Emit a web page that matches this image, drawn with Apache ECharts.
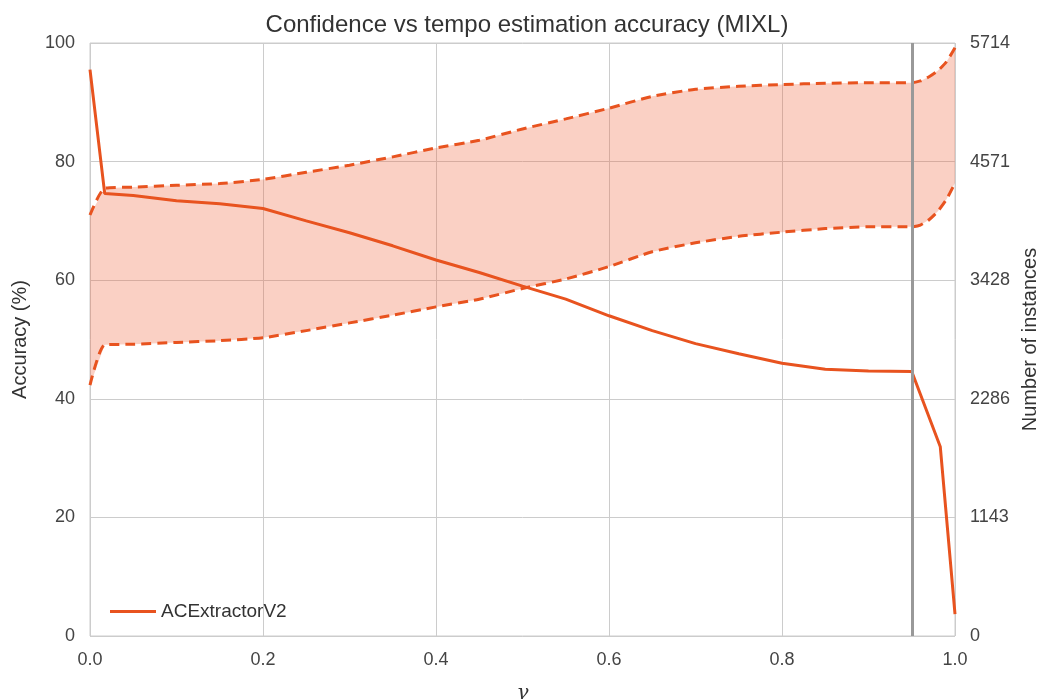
<!DOCTYPE html>
<html><head><meta charset="utf-8">
<script src="https://cdn.jsdelivr.net/npm/echarts@6/dist/echarts.min.js"></script>
<style>html,body{margin:0;padding:0;background:#fff;overflow:hidden}#c{width:1038px;height:699px}</style>
</head><body><div id="c"></div>
<script>
// Solid line (accuracy, %)
const accGamma = [0, 0.017, 0.05, 0.1, 0.15, 0.2, 0.25, 0.3, 0.35, 0.4, 0.45, 0.5, 0.55, 0.6, 0.65, 0.7, 0.75, 0.8, 0.85, 0.9, 0.95, 0.983, 1.0];
const accValues = [95.5, 74.6, 74.3, 73.4, 72.9, 72.1, 70.0, 68.0, 65.8, 63.4, 61.3, 59.0, 56.8, 54.0, 51.5, 49.3, 47.6, 46.0, 45.0, 44.7, 44.6, 31.9, 3.7];
// Band bounds (dashed)
const bandGamma = [0, 0.017, 0.05, 0.1, 0.15, 0.2, 0.25, 0.3, 0.35, 0.4, 0.45, 0.5, 0.55, 0.6, 0.65, 0.7, 0.75, 0.8, 0.85, 0.9, 0.95, 0.96, 0.97, 0.98, 0.99, 1.0];
const bandUpper = [71.0, 75.5, 75.7, 76.0, 76.3, 77.0, 78.2, 79.4, 80.8, 82.3, 83.6, 85.5, 87.2, 89.0, 91.0, 92.2, 92.7, 93.0, 93.2, 93.3, 93.3, 93.6, 94.3, 95.3, 96.8, 99.2];
const bandLower = [42.3, 49.1, 49.2, 49.5, 49.8, 50.3, 51.5, 52.8, 54.1, 55.5, 56.8, 58.6, 60.2, 62.3, 64.8, 66.3, 67.4, 68.1, 68.7, 69.0, 69.0, 69.3, 70.2, 71.6, 73.6, 76.4];
const thresholdGamma = 0.95;
const rightMax = 5714;
const seriesName = 'ACExtractorV2';

const color = '#e8531f';
const fillColor = 'rgba(238,100,60,0.3)';
const txt = '#444';
const font = 'Liberation Sans';

const chart = echarts.init(document.getElementById('c'));
const pairs = (xs, ys) => xs.map((x, i) => [x, ys[i]]);

chart.setOption({
  animation: false,
  textStyle: { fontFamily: font },
  title: {
    text: 'Confidence vs tempo estimation accuracy (MIXL)',
    left: 522, top: 8, textAlign: 'center',
    textStyle: { fontFamily: font, fontSize: 24, fontWeight: 'normal', color: '#333' }
  },
  grid: { left: 90, right: 83, top: 43, bottom: 63, containLabel: false, outerBoundsMode: 'none',
          show: true, borderColor: '#cccccc', borderWidth: 1 },
  legend: {
    left: 105, top: 597, itemWidth: 46, itemHeight: 20, itemGap: 12,
    data: [{ name: seriesName, icon: 'path://M0,8.5 L46,8.5 L46,11.5 L0,11.5 Z' }],
    textStyle: { fontFamily: font, fontSize: 19, color: '#333' }
  },
  xAxis: {
    type: 'value', min: 0, max: 1, interval: 0.2,
    name: 'γ', nameLocation: 'middle', nameGap: 48,
    nameTextStyle: { fontFamily: 'DejaVu Serif', fontStyle: 'italic', fontSize: 20, color: '#333' },
    axisLine: { show: false }, axisTick: { show: false },
    axisLabel: { color: txt, fontSize: 18, margin: 15, formatter: v => v.toFixed(1) },
    splitLine: { show: true, lineStyle: { color: '#cccccc', width: 1 } }
  },
  yAxis: [{
    type: 'value', min: 0, max: 100, interval: 20,
    name: 'Accuracy (%)', nameLocation: 'middle', nameGap: 60, nameRotate: 90,
    nameTextStyle: { fontFamily: font, fontSize: 20, color: '#333' },
    axisLine: { show: false }, axisTick: { show: false },
    axisLabel: { color: txt, fontSize: 18, margin: 15 },
    splitLine: { show: true, lineStyle: { color: '#cccccc', width: 1 } }
  }, {
    type: 'value', min: 0, max: rightMax, interval: rightMax / 5, position: 'right',
    name: 'Number of instances', nameLocation: 'middle', nameGap: 60, nameRotate: 90,
    nameTextStyle: { fontFamily: font, fontSize: 20, color: '#333' },
    axisLine: { show: false }, axisTick: { show: false },
    axisLabel: { color: txt, fontSize: 18, margin: 15, formatter: v => String(Math.round(v)) },
    splitLine: { show: false }
  }],
  series: [
    {
      name: 'band', type: 'custom', silent: true, z: 1,
      data: [0],
      renderItem: function (params, api) {
        const pts = [];
        for (let i = 0; i < bandGamma.length; i++) pts.push(api.coord([bandGamma[i], bandUpper[i]]));
        for (let i = bandGamma.length - 1; i >= 0; i--) pts.push(api.coord([bandGamma[i], bandLower[i]]));
        return { type: 'polygon', shape: { points: pts }, style: { fill: fillColor, stroke: null } };
      }
    },
    {
      name: 'upper', type: 'line', symbol: 'none', silent: true, smooth: 0.2,
      data: pairs(bandGamma, bandUpper),
      lineStyle: { color: color, width: 3, type: [10, 6] }, z: 3
    },
    {
      name: 'lower', type: 'line', symbol: 'none', silent: true, smooth: 0.2,
      data: pairs(bandGamma, bandLower),
      lineStyle: { color: color, width: 3, type: [10, 6] }, z: 3
    },
    {
      name: seriesName, type: 'line', symbol: 'none', smooth: false,
      data: pairs(accGamma, accValues),
      itemStyle: { color: color },
      lineStyle: { color: color, width: 3 }, z: 4,
      markLine: {
        silent: true, symbol: 'none', label: { show: false },
        lineStyle: { color: '#999999', width: 3, type: 'solid' },
        data: [{ xAxis: thresholdGamma }]
      }
    }
  ]
});
</script></body></html>
